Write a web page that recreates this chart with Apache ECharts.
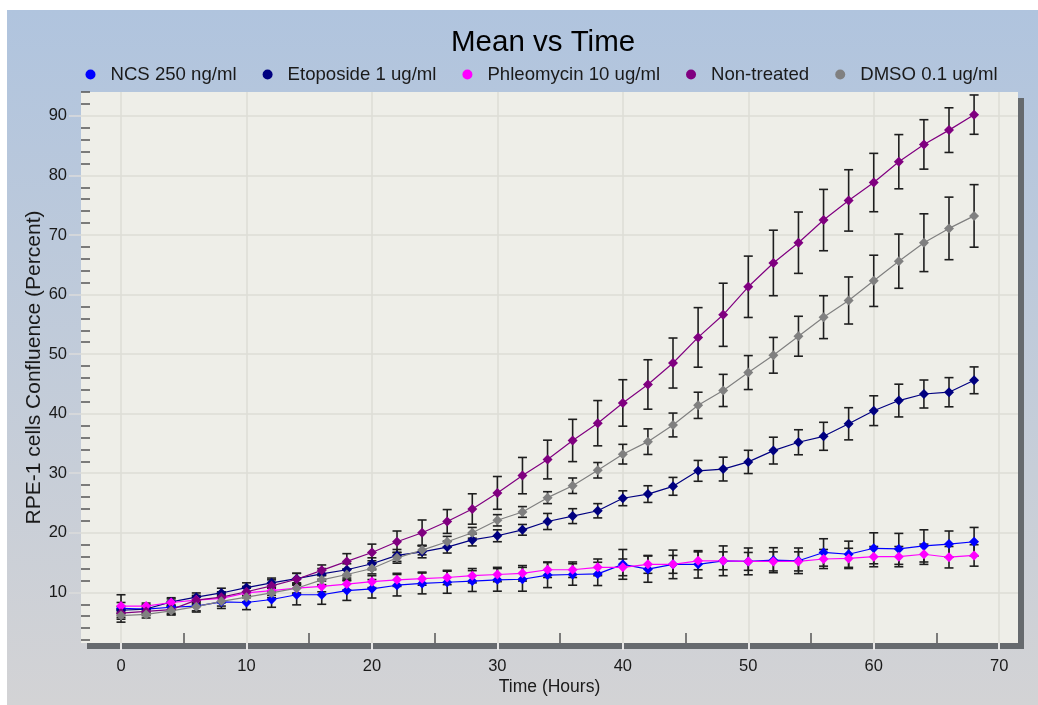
<!DOCTYPE html>
<html>
<head>
<meta charset="utf-8">
<title>Mean vs Time</title>
<script src="https://cdn.jsdelivr.net/npm/echarts@6/dist/echarts.min.js"></script>
<style>
  html, body { margin: 0; padding: 0; background: #fff; }
  #chart {
    position: absolute; left: 7px; top: 10px; width: 1031px; height: 695px;
    background: linear-gradient(#b0c4de, #d3d3d5);
  }
</style>
</head>
<body>
<div id="chart"></div>
<script>
// time points (hours)
const hours = [0, 2, 4, 6, 8, 10, 12, 14, 16, 18, 20, 22, 24, 26, 28, 30, 32, 34,
  36, 38, 40, 42, 44, 46, 48, 50, 52, 54, 56, 58, 60, 62, 64, 66, 68];

// mean confluence (%) and error (+/-) per treatment
const ncsMean = [7.3, 7.2, 7.5, 7.7, 8.4, 8.3, 8.8, 9.6, 9.6, 10.3, 10.6, 11.2, 11.5, 11.7, 11.9, 12.1, 12.2, 12.9,
  13.0, 13.1, 14.7, 13.9, 14.7, 14.7, 15.3, 15.2, 15.4, 15.3, 16.7, 16.4, 17.4, 17.3, 17.8, 18.1, 18.5];
const ncsErr = [2.3, 0.7, 1.0, 1.0, 1.1, 1.2, 1.3, 1.7, 1.6, 1.65, 1.55, 1.8, 1.75, 1.85, 1.75, 1.9, 2.0, 2.1,
  1.8, 1.95, 2.5, 2.2, 2.4, 2.3, 2.5, 2.25, 2.1, 2.15, 2.3, 2.2, 2.6, 2.6, 2.7, 2.2, 2.4];

const etoMean = [7.0, 7.2, 8.4, 9.2, 9.9, 10.8, 11.6, 12.3, 13.1, 13.8, 14.8, 16.2, 16.8, 17.6, 18.8, 19.5, 20.5, 21.9,
  22.8, 23.7, 25.8, 26.5, 27.8, 30.4, 30.7, 31.9, 33.8, 35.2, 36.2, 38.3, 40.5, 42.2, 43.3, 43.6, 45.6];
const etoErr = [0.6, 0.6, 0.7, 0.7, 0.8, 0.8, 0.8, 0.9, 0.9, 1.0, 1.0, 1.0, 1.0, 1.0, 1.0, 1.0, 0.9, 1.35,
  1.25, 1.2, 1.25, 1.4, 1.5, 1.75, 2.0, 1.95, 2.25, 2.1, 2.35, 2.7, 2.5, 2.75, 2.35, 2.45, 2.25];

const phleoMean = [7.7, 7.7, 8.3, 8.7, 9.0, 9.9, 10.3, 10.7, 11.0, 11.4, 11.8, 12.1, 12.3, 12.5, 12.8, 13.0, 13.2, 13.8,
  13.8, 14.2, 14.2, 14.7, 14.7, 15.3, 15.3, 15.2, 15.2, 15.2, 15.6, 15.7, 16.0, 16.0, 16.4, 15.9, 16.2];
const phleoErr = [0.6, 0.5, 0.6, 0.6, 0.7, 0.8, 0.8, 0.9, 0.9, 1.0, 1.0, 1.1, 1.1, 1.2, 1.2, 1.2, 1.3, 1.3,
  1.3, 1.4, 1.4, 1.5, 1.5, 1.5, 1.5, 1.5, 1.6, 1.6, 1.6, 1.7, 1.7, 1.7, 1.7, 1.8, 1.8];

const ntMean = [6.5, 6.8, 7.1, 8.7, 9.2, 10.1, 11.1, 12.2, 13.7, 15.2, 16.7, 18.5, 20.0, 21.9, 24.0, 26.7, 29.6, 32.3,
  35.5, 38.4, 41.8, 44.9, 48.5, 52.8, 56.6, 61.3, 65.3, 68.7, 72.5, 75.8, 78.8, 82.3, 85.2, 87.6, 90.2];
const ntErr = [0.7, 0.7, 0.8, 0.8, 0.9, 0.9, 1.0, 1.0, 0.9, 1.3, 1.4, 1.8, 2.15, 2.0, 2.55, 2.75, 3.05, 3.25,
  3.55, 3.8, 3.9, 4.15, 4.2, 5.0, 5.3, 5.15, 5.5, 5.15, 5.15, 5.15, 4.9, 4.55, 4.15, 3.75, 3.3];

const dmsoMean = [6.1, 6.3, 6.9, 7.6, 8.5, 9.2, 9.9, 10.7, 12.1, 13.0, 14.0, 15.8, 17.1, 18.5, 20.0, 22.1, 23.5, 25.9,
  27.9, 30.5, 33.2, 35.3, 38.1, 41.4, 43.9, 46.9, 49.8, 53.0, 56.2, 59.0, 62.3, 65.6, 68.7, 71.1, 73.2];
const dmsoErr = [0.6, 0.6, 0.7, 0.7, 0.8, 0.8, 0.8, 0.8, 0.8, 0.9, 0.9, 0.9, 0.8, 0.9, 0.9, 0.95, 0.9, 1.0,
  1.3, 1.3, 1.65, 2.15, 2.0, 2.2, 2.7, 2.85, 3.0, 3.35, 3.6, 3.95, 4.3, 4.55, 4.85, 5.25, 5.25];

// axis ticks
const xLabels = [0, 10, 20, 30, 40, 50, 60, 70];
const xMinor = [5, 15, 25, 35, 45, 55, 65];
const yLabels = [10, 20, 30, 40, 50, 60, 70, 80, 90];
const yMinor = [2, 4, 6, 8, 12, 14, 16, 18, 22, 24, 26, 28, 32, 34, 36, 38, 42, 44, 46, 48,
  52, 54, 56, 58, 62, 64, 66, 68, 72, 74, 76, 78, 82, 84, 86, 88, 92, 94];

const groups = [
  { name: 'NCS 250 ng/ml', color: '#0000ff', mean: ncsMean, err: ncsErr },
  { name: 'Etoposide 1 ug/ml', color: '#000080', mean: etoMean, err: etoErr },
  { name: 'Phleomycin 10 ug/ml', color: '#ff00ff', mean: phleoMean, err: phleoErr },
  { name: 'Non-treated', color: '#800080', mean: ntMean, err: ntErr },
  { name: 'DMSO 0.1 ug/ml', color: '#808080', mean: dmsoMean, err: dmsoErr }
];

const font = "'Liberation Sans', Arial, sans-serif";

function errorBar (params, api) {
  const x = api.value(0);
  const lo = api.coord([x, api.value(1)]);
  const hi = api.coord([x, api.value(2)]);
  const w = 4.5;
  const style = { stroke: '#1e1e1e', lineWidth: 1.6 };
  return {
    type: 'group',
    children: [
      { type: 'line', shape: { x1: hi[0], y1: hi[1], x2: lo[0], y2: lo[1] }, style: style },
      { type: 'line', shape: { x1: hi[0] - w, y1: hi[1], x2: hi[0] + w, y2: hi[1] }, style: style },
      { type: 'line', shape: { x1: lo[0] - w, y1: lo[1], x2: lo[0] + w, y2: lo[1] }, style: style }
    ]
  };
}

const series = [];
groups.forEach(g => {
  series.push({
    name: g.name + ' err',
    type: 'custom',
    renderItem: errorBar,
    encode: { x: 0, y: [1, 2] },
    data: hours.map((h, i) => [h, g.mean[i] - g.err[i], g.mean[i] + g.err[i]]),
    z: 1,
    silent: true
  });
});
groups.forEach(g => {
  series.push({
    name: g.name,
    type: 'line',
    data: hours.map((h, i) => [h, g.mean[i]]),
    color: g.color,
    symbol: 'diamond',
    symbolSize: 10,
    lineStyle: { width: 1.2, color: g.color },
    itemStyle: { color: g.color },
    z: 3
  });
});

const chart = echarts.init(document.getElementById('chart'));
chart.setOption({
  animation: false,
  backgroundColor: 'transparent',
  textStyle: { fontFamily: font },
  title: {
    text: 'Mean vs Time',
    left: 439,
    top: 13,
    textStyle: { fontSize: 29.5, fontWeight: 'normal', color: '#000', fontFamily: font }
  },
  legend: {
    data: groups.map(g => g.name),
    left: 73.5,
    top: 50,
    icon: 'circle',
    itemWidth: 30,
    itemHeight: 10,
    itemGap: 26,
    textStyle: { fontSize: 18.6, color: '#1a1a1a', fontFamily: font }
  },
  grid: {
    left: 74,
    top: 82,
    right: 20,
    bottom: 62,
    show: true,
    backgroundColor: '#eeeee8',
    borderWidth: 0,
    shadowColor: '#666a6e',
    shadowBlur: 0,
    shadowOffsetX: 6,
    shadowOffsetY: 6
  },
  xAxis: [{
    type: 'value',
    min: -3.19,
    max: 71.5,
    position: 'bottom',
    name: 'Time (Hours)',
    nameLocation: 'middle',
    nameGap: 35,
    nameMoveOverlap: false,
    nameTextStyle: { fontSize: 17.5, color: '#1a1a1a' },
    axisLine: { show: false, onZero: false },
    axisTick: { show: true, customValues: xLabels, length: 7, lineStyle: { color: '#e6e6e6', width: 2 } },
    axisLabel: { customValues: xLabels, margin: 15, fontSize: 16.5, color: '#1a1a1a' },
    splitLine: { show: true, lineStyle: { color: '#dcdcd6', width: 1.5 } }
  }, {
    type: 'value',
    min: -3.19,
    max: 71.5,
    position: 'bottom',
    axisLine: { show: false, onZero: false },
    axisTick: { show: true, inside: true, customValues: xMinor, length: 10, lineStyle: { color: '#555', width: 1.5 } },
    axisLabel: { show: false },
    splitLine: { show: false }
  }],
  yAxis: [{
    type: 'value',
    min: 1.5,
    max: 94,
    position: 'left',
    name: 'RPE-1 cells Confluence (Percent)',
    nameLocation: 'middle',
    nameGap: 36,
    nameMoveOverlap: false,
    nameTextStyle: { fontSize: 21, color: '#1a1a1a' },
    axisLine: { show: false, onZero: false },
    axisTick: { show: true, customValues: yLabels, length: 12, lineStyle: { color: '#dcdcdc', width: 1.5 } },
    axisLabel: { customValues: yLabels, margin: 14, fontSize: 16.5, color: '#1a1a1a' },
    splitLine: { show: true, lineStyle: { color: '#dcdcd6', width: 1.5 } }
  }, {
    type: 'value',
    min: 1.5,
    max: 94,
    position: 'left',
    axisLine: { show: false, onZero: false },
    axisTick: { show: true, inside: true, customValues: yMinor, length: 9, lineStyle: { color: '#555', width: 1.5 } },
    axisLabel: { show: false },
    splitLine: { show: false }
  }],
  series: series
});
</script>
</body>
</html>
